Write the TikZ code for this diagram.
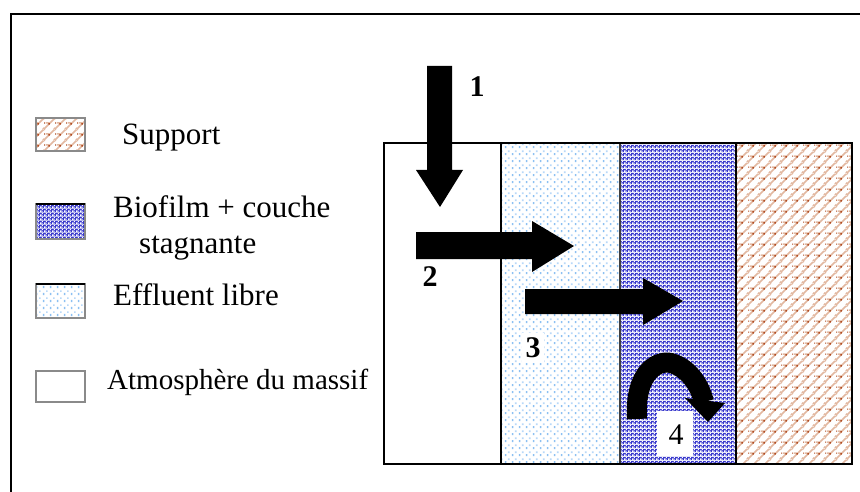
\documentclass[tikz,border=0pt]{standalone}
\usepackage{fontspec}
\setmainfont{Liberation Serif}
\usetikzlibrary{patterns}

\definecolor{effdot}{HTML}{8CC0F2}
\definecolor{effdotb}{HTML}{B8D8F8}
\definecolor{biobase}{HTML}{3838CC}
\definecolor{biolight}{HTML}{A0A0E8}
\definecolor{suplight}{HTML}{E2B8A0}
\definecolor{supdark}{HTML}{B04A20}
\definecolor{swatchgray}{HTML}{8A8A8A}

% free effluent: sparse light-blue specks on white
\pgfdeclarepatterninherentlycolored{effluentpat}{\pgfpointorigin}{\pgfpoint{7pt}{7pt}}{\pgfpoint{7pt}{7pt}}{%
  \pgfsetfillcolor{white}\pgfpathrectangle{\pgfpointorigin}{\pgfpoint{7pt}{7pt}}\pgfusepath{fill}%
  \pgfsetfillcolor{effdot}\pgfpathrectangle{\pgfpoint{1pt}{1pt}}{\pgfpoint{1.7pt}{2.4pt}}\pgfusepath{fill}%
  \pgfsetfillcolor{effdotb}\pgfpathrectangle{\pgfpoint{4.5pt}{4.5pt}}{\pgfpoint{1.8pt}{1.8pt}}\pgfusepath{fill}%
}

% biofilm: dense blue with white speckles
\pgfdeclarepatterninherentlycolored{biofilmpat}{\pgfpointorigin}{\pgfpoint{4pt}{4pt}}{\pgfpoint{4pt}{4pt}}{%
  \pgfsetfillcolor{biobase}\pgfpathrectangle{\pgfpointorigin}{\pgfpoint{4pt}{4pt}}\pgfusepath{fill}%
  \pgfsetfillcolor{white}\pgfpathrectangle{\pgfpoint{0pt}{0pt}}{\pgfpoint{1.9pt}{1.9pt}}\pgfusepath{fill}%
  \pgfsetfillcolor{white}\pgfpathrectangle{\pgfpoint{2.2pt}{2.2pt}}{\pgfpoint{1.4pt}{1.4pt}}\pgfusepath{fill}%
  \pgfsetfillcolor{biolight}\pgfpathrectangle{\pgfpoint{2.2pt}{0.2pt}}{\pgfpoint{1.3pt}{1.3pt}}\pgfusepath{fill}%
}

% support: brown diagonal lattice on white
\pgfdeclarepatterninherentlycolored{supportpat}{\pgfpointorigin}{\pgfpoint{11pt}{11pt}}{\pgfpoint{11pt}{11pt}}{%
  \pgfsetfillcolor{white}\pgfpathrectangle{\pgfpointorigin}{\pgfpoint{11pt}{11pt}}\pgfusepath{fill}%
  \pgfsetstrokecolor{suplight}\pgfsetlinewidth{1.6pt}%
  \pgfpathmoveto{\pgfpoint{0pt}{0pt}}\pgfpathlineto{\pgfpoint{11pt}{11pt}}%
  \pgfpathmoveto{\pgfpoint{-1pt}{10pt}}\pgfpathlineto{\pgfpoint{1pt}{12pt}}%
  \pgfpathmoveto{\pgfpoint{10pt}{-1pt}}\pgfpathlineto{\pgfpoint{12pt}{1pt}}%
  \pgfpathmoveto{\pgfpoint{2pt}{6.5pt}}\pgfpathlineto{\pgfpoint{5.5pt}{6.5pt}}%
  \pgfusepath{stroke}%
  \pgfsetfillcolor{supdark}\pgfpathrectangle{\pgfpoint{4.7pt}{4.7pt}}{\pgfpoint{1.6pt}{1.6pt}}\pgfusepath{fill}%
  \pgfpathrectangle{\pgfpoint{0pt}{5.8pt}}{\pgfpoint{1.2pt}{1.2pt}}\pgfusepath{fill}%
}

\begin{document}
\begin{tikzpicture}[x=1pt,y=-1pt,
  legendtxt/.style={anchor=base west,inner sep=0pt,font=\fontsize{31}{36}\selectfont},
  numlbl/.style={inner sep=0pt,font=\fontsize{30}{32}\selectfont\bfseries},
  swatch/.style={draw=swatchgray,line width=1.5pt},
  divider/.style={line width=1.8pt},
  fatarrow/.style={fill=black}]

\useasboundingbox (0,0) rectangle (860,492);
\fill[white] (0,0) rectangle (860,492);

% outer frame
\draw[line width=2.5pt] (11,495) -- (11,14) -- (863,14);

% legend swatches
\draw[swatch,pattern=supportpat] (36,118) rectangle (85,151);
\draw[swatch,pattern=biofilmpat] (36,204) rectangle (85,239);
\draw[line width=1.5pt] (36,204) -- (85,204);
\draw[swatch,pattern=effluentpat] (36,284) rectangle (85,318);
\draw[line width=1.5pt] (36,284) -- (85,284);
\draw[swatch,fill=white] (36,371) rectangle (85,402);

% legend texts
\node[legendtxt] (tsup)  at (122,145) {Support};
\node[legendtxt] (tbio)  at (113,218) {Biofilm + couche};
\node[legendtxt] (tstag) at (139,253) {stagnante};
\node[legendtxt] (teff)  at (113,305) {Effluent libre};
\node[legendtxt,font=\fontsize{29}{34}\selectfont] (tatm) at (107,389) {Atmosphère du massif};

% layered cross-section
\fill[white] (384,143) rectangle (501,464);
\path[pattern=effluentpat] (501,143) rectangle (620,464);
\path[pattern=biofilmpat] (620,143) rectangle (736,464);
\path[pattern=supportpat] (736,143) rectangle (852,464);
\draw[divider] (501,143) -- (501,464);
\draw[divider,draw=black!75] (620,143) -- (620,464);
\draw[divider] (736,143) -- (736,464);
\draw[line width=2pt] (384,143) rectangle (852,464);

% transfer arrows
\fill[fatarrow] (427,66) -- (452,66) -- (452,170) -- (463,170) -- (440,207)
  -- (416,170) -- (427,170) -- cycle;
\fill[fatarrow] (416,232) -- (532,232) -- (532,221) -- (574,246) -- (532,272)
  -- (532,259) -- (416,259) -- cycle;
\fill[fatarrow] (525,289) -- (643,289) -- (643,278) -- (683,301) -- (643,325)
  -- (643,314) -- (525,314) -- cycle;

% curved arrow inside the biofilm
\draw[line width=20pt] (637,419) .. controls (634,370) and (660,358) .. (674,364)
  .. controls (690,370) and (700,386) .. (704,402);
\fill[fatarrow] (685,398) -- (725,403) -- (708,422) -- cycle;

% step numbers
\node[numlbl] (n1) at (477,87) {1};
\node[numlbl] (n2) at (430,277) {2};
\node[numlbl,fill=white,minimum width=22pt,minimum height=30pt] (n3) at (533,348) {3};
\node[fill=white,minimum width=36pt,minimum height=45pt,inner sep=0pt] (b4) at (675,433.5) {};
\node[inner sep=0pt,font=\fontsize{30}{32}\selectfont] (n4) at (676,435) {4};

\end{tikzpicture}
\end{document}
